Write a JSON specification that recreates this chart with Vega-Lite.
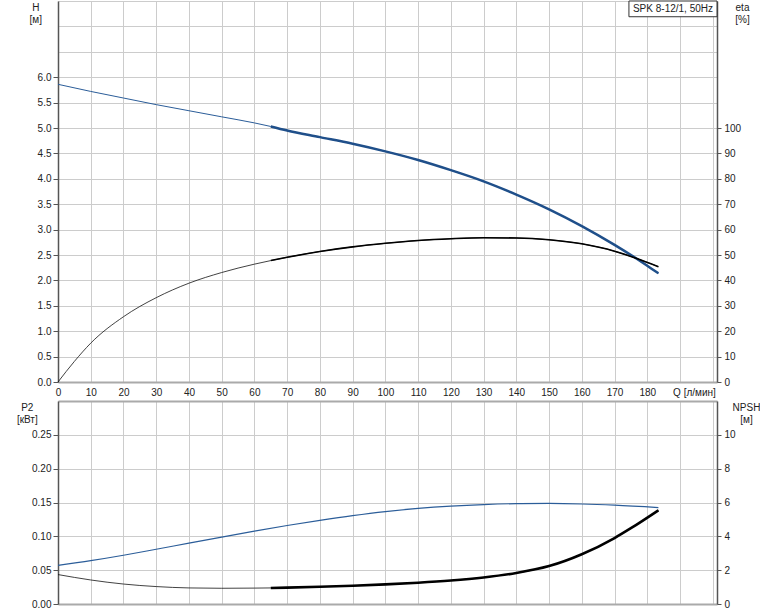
{
  "$schema": "https://vega.github.io/schema/vega-lite/v6.json",
  "padding": {"left": 16, "top": 0, "right": 0, "bottom": 0},
  "background": "white",
  "bounds": "flush",
  "spacing": 19,
  "config": {
    "view": {"stroke": null},
    "font": "Liberation Sans",
    "axis": {
      "labelFont": "Liberation Sans", "labelFontSize": 10, "labelColor": "#222",
      "titleFont": "Liberation Sans", "titleFontSize": 10, "titleFontWeight": "normal", "titleColor": "#222",
      "gridColor": "#cccccc", "gridWidth": 1, "tickColor": "#555", "domainColor": "#555", "labelOverlap": false
    }
  },
  "datasets": {
    "H": [
      {"Q": 0, "H": 5.86}, {"Q": 10, "H": 5.72}, {"Q": 20, "H": 5.59}, {"Q": 30, "H": 5.46},
      {"Q": 40, "H": 5.34}, {"Q": 50, "H": 5.22}, {"Q": 60, "H": 5.10}, {"Q": 65, "H": 5.03},
      {"Q": 70, "H": 4.95}, {"Q": 80, "H": 4.82}, {"Q": 90, "H": 4.69}, {"Q": 100, "H": 4.54},
      {"Q": 110, "H": 4.37}, {"Q": 120, "H": 4.17}, {"Q": 130, "H": 3.95}, {"Q": 140, "H": 3.69},
      {"Q": 150, "H": 3.40}, {"Q": 160, "H": 3.07}, {"Q": 170, "H": 2.70}, {"Q": 180, "H": 2.29},
      {"Q": 183.4, "H": 2.14}
    ],
    "eta": [
      {"Q": 0, "eta": 0}, {"Q": 5, "eta": 8.1}, {"Q": 10, "eta": 15.3}, {"Q": 20, "eta": 25.7},
      {"Q": 30, "eta": 33.2}, {"Q": 40, "eta": 38.9}, {"Q": 50, "eta": 43.1}, {"Q": 60, "eta": 46.4},
      {"Q": 65, "eta": 47.8}, {"Q": 70, "eta": 49.1}, {"Q": 80, "eta": 51.4}, {"Q": 90, "eta": 53.2},
      {"Q": 100, "eta": 54.6}, {"Q": 110, "eta": 55.7}, {"Q": 120, "eta": 56.4}, {"Q": 130, "eta": 56.8},
      {"Q": 140, "eta": 56.7}, {"Q": 150, "eta": 56.0}, {"Q": 160, "eta": 54.4}, {"Q": 170, "eta": 51.5},
      {"Q": 176.6, "eta": 48.7}, {"Q": 183.4, "eta": 45.4}
    ],
    "P2": [
      {"Q": 0, "P2": 0.057}, {"Q": 10, "P2": 0.0640}, {"Q": 20, "P2": 0.0720}, {"Q": 30, "P2": 0.0809},
      {"Q": 40, "P2": 0.0899}, {"Q": 50, "P2": 0.0988}, {"Q": 60, "P2": 0.1076}, {"Q": 70, "P2": 0.1160},
      {"Q": 80, "P2": 0.1236}, {"Q": 90, "P2": 0.1306}, {"Q": 100, "P2": 0.1366}, {"Q": 110, "P2": 0.1413},
      {"Q": 120, "P2": 0.1447}, {"Q": 130, "P2": 0.1470}, {"Q": 140, "P2": 0.1483}, {"Q": 150, "P2": 0.1486},
      {"Q": 160, "P2": 0.1478}, {"Q": 170, "P2": 0.1460}, {"Q": 183.4, "P2": 0.1424}
    ],
    "NPSH": [
      {"Q": 0, "NPSH": 1.74}, {"Q": 10, "NPSH": 1.42}, {"Q": 20, "NPSH": 1.18}, {"Q": 30, "NPSH": 1.03},
      {"Q": 40, "NPSH": 0.95}, {"Q": 50, "NPSH": 0.93}, {"Q": 60, "NPSH": 0.94}, {"Q": 65, "NPSH": 0.95},
      {"Q": 70, "NPSH": 0.97}, {"Q": 80, "NPSH": 1.02}, {"Q": 90, "NPSH": 1.08}, {"Q": 100, "NPSH": 1.16},
      {"Q": 110, "NPSH": 1.26}, {"Q": 120, "NPSH": 1.39}, {"Q": 130, "NPSH": 1.57}, {"Q": 140, "NPSH": 1.83},
      {"Q": 150, "NPSH": 2.24}, {"Q": 160, "NPSH": 2.94}, {"Q": 170, "NPSH": 3.90}, {"Q": 175, "NPSH": 4.48},
      {"Q": 183.4, "NPSH": 5.54}
    ],
    "label": [{"label": "SPK 8-12/1, 50Hz"}]
  },
  "vconcat": [
    {
      "width": 659,
      "height": 381,
      "resolve": {"scale": {"y": "independent"}},
      "layer": [
        {
          "layer": [
            {
              "data": {"name": "H"},
              "mark": {"type": "line", "color": "#2b5d99", "strokeWidth": 1, "interpolate": "monotone"},
              "encoding": {
                "x": {
                  "field": "Q", "type": "quantitative",
                  "scale": {"domain": [0, 201.3], "nice": false, "zero": false},
                  "axis": {
                    "tickCount": 20,
                    "labelExpr": "datum.value > 185 ? '' : datum.label",
                    "ticks": false, "labelPadding": 5, "labelFlush": false, "labelOverlap": false,
                    "domainColor": "#aaaaaa", "domainWidth": 2, "grid": true,
                    "title": "Q [л/мин]", "titleX": 657.3, "titleY": 5, "titleAlign": "right", "titleBaseline": "top", "titleAnchor": "end"
                  }
                },
                "y": {
                  "field": "H", "type": "quantitative",
                  "scale": {"domain": [0, 7.5], "nice": false},
                  "axis": {
                    "tickCount": 15,
                    "labelExpr": "datum.value > 6.01 ? '' : format(datum.value, '.1f')",
                    "labelFontSize": {"condition": {"test": "datum.value > 6.01", "value": 0}, "value": 10},
                    "tickSize": 5, "tickOpacity": {"condition": {"test": "datum.value > 6.01", "value": 0}, "value": 1},
                    "labelPadding": 2, "labelOverlap": false, "domainColor": "#555", "domainWidth": 1.5, "grid": true,
                    "title": ["H", "[м]"], "titleAngle": 0, "titleX": -22.7, "titleY": 1, "titleAlign": "center", "titleBaseline": "top", "titleLineHeight": 12
                  }
                }
              }
            },
            {
              "data": {"name": "H"},
              "transform": [{"filter": "datum.Q >= 65"}],
              "mark": {"type": "line", "color": "#1f4f8a", "strokeWidth": 2.5, "interpolate": "monotone"},
              "encoding": {
                "x": {"field": "Q", "type": "quantitative"},
                "y": {"field": "H", "type": "quantitative"}
              }
            },
            {
              "data": {"name": "label"},
              "mark": {"type": "rect", "fill": "white", "stroke": "#333", "strokeWidth": 1},
              "encoding": {
                "x": {"datum": 174.4, "type": "quantitative"},
                "x2": {"datum": 201.3},
                "y": {"datum": 7.5, "type": "quantitative"},
                "y2": {"datum": 7.19}
              }
            },
            {
              "data": {"name": "label"},
              "mark": {"type": "text", "fontSize": 10, "color": "#222", "font": "Liberation Sans"},
              "encoding": {
                "x": {"datum": 187.85, "type": "quantitative"},
                "y": {"datum": 7.345, "type": "quantitative"},
                "text": {"field": "label"}
              }
            }
          ]
        },
        {
          "layer": [
            {
              "data": {"name": "eta"},
              "mark": {"type": "line", "color": "#111", "strokeWidth": 0.8, "interpolate": "monotone"},
              "encoding": {
                "x": {"field": "Q", "type": "quantitative"},
                "y": {
                  "field": "eta", "type": "quantitative",
                  "scale": {"domain": [0, 150], "nice": false},
                  "axis": {
                    "orient": "right",
                    "tickCount": 15,
                    "labelExpr": "datum.value > 101 ? '' : datum.label",
                    "labelFontSize": {"condition": {"test": "datum.value > 101", "value": 0}, "value": 10},
                    "tickOpacity": {"condition": {"test": "datum.value > 101", "value": 0}, "value": 1},
                    "grid": false, "tickSize": 4, "labelPadding": 3, "labelOverlap": false, "domainColor": "#555", "domainWidth": 1.5,
                    "title": ["eta", "[%]"], "titleAngle": 0, "titleX": 25, "titleY": 1, "titleAlign": "center", "titleBaseline": "top", "titleLineHeight": 12
                  }
                }
              }
            },
            {
              "data": {"name": "eta"},
              "transform": [{"filter": "datum.Q >= 65"}],
              "mark": {"type": "line", "color": "#000", "strokeWidth": 1.6, "interpolate": "monotone"},
              "encoding": {
                "x": {"field": "Q", "type": "quantitative"},
                "y": {"field": "eta", "type": "quantitative"}
              }
            }
          ]
        }
      ]
    },
    {
      "width": 659,
      "height": 203,
      "resolve": {"scale": {"y": "independent"}},
      "layer": [
        {
          "data": {"name": "P2"},
          "mark": {"type": "line", "color": "#2b5d99", "strokeWidth": 1.2, "interpolate": "monotone"},
          "encoding": {
            "x": {
              "field": "Q", "type": "quantitative",
              "scale": {"domain": [0, 201.3], "nice": false, "zero": false},
              "axis": {
                "tickCount": 20,
                "labels": false, "ticks": false, "domainColor": "#aaaaaa", "domainWidth": 2, "grid": true, "title": null
              }
            },
            "y": {
              "field": "P2", "type": "quantitative",
              "scale": {"domain": [0, 0.3], "nice": false},
              "axis": {
                "tickCount": 6,
                "labelExpr": "datum.value > 0.26 ? '' : format(datum.value, '.2f')",
                "labelFontSize": {"condition": {"test": "datum.value > 0.26", "value": 0}, "value": 10},
                "tickSize": 5, "tickOpacity": {"condition": {"test": "datum.value > 0.26", "value": 0}, "value": 1},
                "gridColor": {"condition": {"test": "datum.value > 0.29", "value": "#aaaaaa"}, "value": "#cccccc"},
                "gridWidth": {"condition": {"test": "datum.value > 0.29", "value": 2}, "value": 1},
                "labelPadding": 2, "labelOverlap": false, "domainColor": "#555", "domainWidth": 1.5, "grid": true,
                "title": ["P2", "[кВт]"], "titleAngle": 0, "titleX": -31.2, "titleY": 1, "titleAlign": "center", "titleBaseline": "top", "titleLineHeight": 12
              }
            }
          }
        },
        {
          "layer": [
            {
              "data": {"name": "NPSH"},
              "mark": {"type": "line", "color": "#111", "strokeWidth": 0.8, "interpolate": "monotone"},
              "encoding": {
                "x": {"field": "Q", "type": "quantitative"},
                "y": {
                  "field": "NPSH", "type": "quantitative",
                  "scale": {"domain": [0, 12], "nice": false},
                  "axis": {
                    "orient": "right",
                    "tickCount": 6,
                    "labelExpr": "datum.value > 11 ? '' : datum.label",
                    "labelFontSize": {"condition": {"test": "datum.value > 11", "value": 0}, "value": 10},
                    "tickOpacity": {"condition": {"test": "datum.value > 11", "value": 0}, "value": 1},
                    "grid": false, "tickSize": 4, "labelPadding": 3, "labelOverlap": false, "domainColor": "#555", "domainWidth": 1.5,
                    "title": ["NPSH", "[м]"], "titleAngle": 0, "titleX": 29, "titleY": 1, "titleAlign": "center", "titleBaseline": "top", "titleLineHeight": 12
                  }
                }
              }
            },
            {
              "data": {"name": "NPSH"},
              "transform": [{"filter": "datum.Q >= 65"}],
              "mark": {"type": "line", "color": "#000", "strokeWidth": 2.6, "interpolate": "monotone"},
              "encoding": {
                "x": {"field": "Q", "type": "quantitative"},
                "y": {"field": "NPSH", "type": "quantitative"}
              }
            }
          ]
        }
      ]
    }
  ]
}
